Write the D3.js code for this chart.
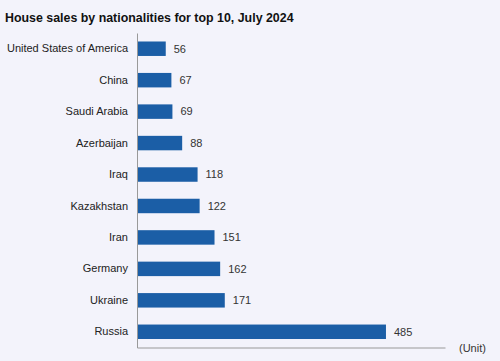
<!DOCTYPE html>
<html><head><meta charset="utf-8">
<script src="https://cdn.jsdelivr.net/npm/d3@7"></script>
<style>
html,body{margin:0;padding:0;background:#f3f3fb;}
svg{display:block;font-family:"Liberation Sans",Arial,sans-serif;}
</style></head>
<body>
<svg id="chart" width="500" height="361"></svg>
<script>
const title = "House sales by nationalities for top 10, July 2024";
const countries = ["United States of America","China","Saudi Arabia","Azerbaijan","Iraq","Kazakhstan","Iran","Germany","Ukraine","Russia"];
const sales = [56,67,69,88,118,122,151,162,171,485];
const unitLabel = "(Unit)";
const xMax = 600;

const svg = d3.select("#chart");
svg.append("rect").attr("width",500).attr("height",361).attr("fill","#f3f3fb");

const x = d3.scaleLinear().domain([0,xMax]).range([137,445]);
const y = d3.scaleBand().domain(countries).range([33,347.5]).paddingInner(0.54).paddingOuter(0.27);

svg.append("text").attr("x",5).attr("y",22).attr("font-size",12.4).attr("font-weight","bold")
  .attr("fill","#111").text(title);

// bars
svg.selectAll("rect.bar").data(countries).join("rect").attr("class","bar")
  .attr("x",x(0)).attr("y",d=>y(d)).attr("height",y.bandwidth())
  .attr("width",(d,i)=>x(sales[i])-x(0)).attr("fill","#1b5ea6");

// value labels
svg.selectAll("text.val").data(countries).join("text").attr("class","val")
  .attr("x",(d,i)=>x(sales[i])+8).attr("y",d=>y(d)+y.bandwidth()/2).attr("dy","0.35em")
  .attr("font-size",11).attr("fill","#333").text((d,i)=>sales[i]);

// y axis
const yAxis = d3.axisLeft(y).tickSize(0).tickPadding(9);
const gy = svg.append("g").attr("transform",`translate(${x(0)},0)`).call(yAxis);
gy.select(".domain").attr("stroke","#999");
gy.selectAll("text").attr("font-size",11).attr("fill","#222").attr("font-family","Liberation Sans, Arial, sans-serif");

// x axis line
const xAxis = d3.axisBottom(x).tickValues([]).tickSizeOuter(0);
const gx = svg.append("g").attr("transform",`translate(0,347.5)`).call(xAxis);
gx.select(".domain").attr("stroke","#999");

svg.append("text").attr("x",459).attr("y",352).attr("font-size",11).attr("fill","#333").text(unitLabel);
</script>
</body></html>
